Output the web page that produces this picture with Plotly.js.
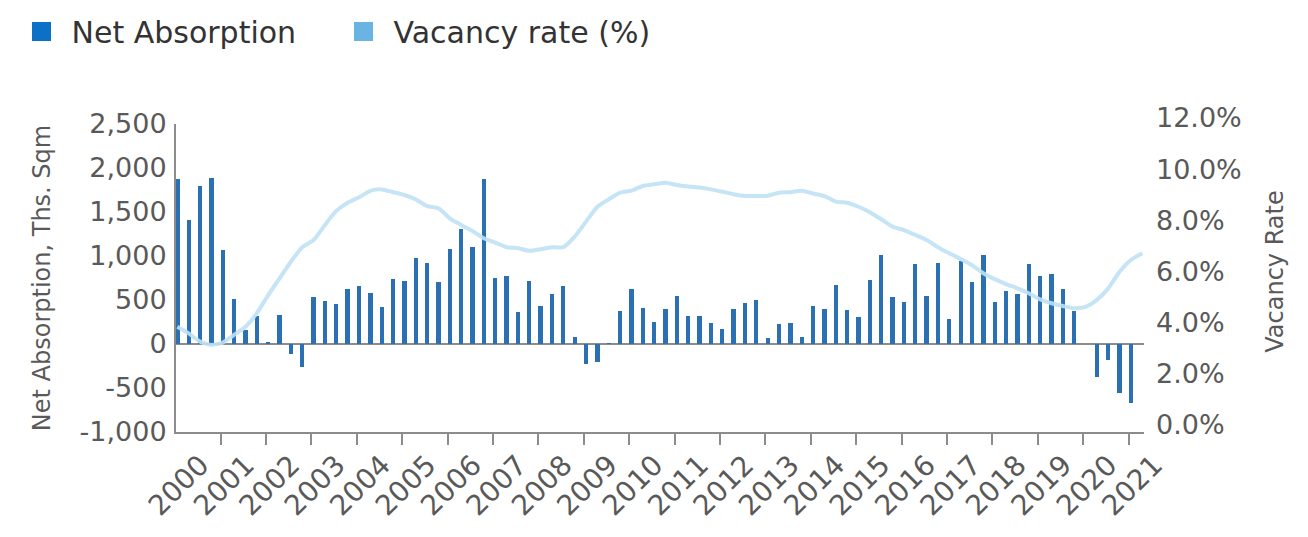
<!DOCTYPE html>
<html>
<head>
<meta charset="utf-8">
<script src="https://cdn.plot.ly/plotly-3.0.1.min.js"></script>
<style>
  html, body { margin: 0; padding: 0; background: #fff; }
  #chart { width: 1308px; height: 537px; }
</style>
</head>
<body>
<div id="chart"></div>
<script>
// year labels on the x axis, one per block of four quarters
const years = ["2000", "2001", "2002", "2003", "2004", "2005", "2006", "2007", "2008", "2009", "2010",
               "2011", "2012", "2013", "2014", "2015", "2016", "2017", "2018", "2019", "2020", "2021"];

// quarterly net absorption, ths. sqm (2000 Q1 .. 2021 Q1)
const netAbsorption = [
  1872, 1409, 1795, 1883,
  1068, 511, 159, 322,
  23, 330, -117, -265,
  530, 489, 451, 621,
  659, 580, 420, 739,
  712, 977, 924, 701,
  1080, 1307, 1106, 1872,
  754, 777, 367, 712,
  436, 568, 659, 76,
  -231, -208, 10, 379,
  621, 409, 250, 394,
  542, 318, 318, 235,
  170, 394, 462, 500,
  64, 223, 235, 76,
  436, 394, 670, 383,
  303, 727, 1011, 530,
  473, 909, 542, 924,
  288, 943, 701, 1011,
  473, 606, 568, 909,
  777, 792, 621, 379,
  0, -371, -182, -553,
  -674
];

// quarterly vacancy rate, % (2000 Q1 .. 2021 Q2)
const vacancyRate = [
  3.84, 3.58, 3.26, 3.13,
  3.22, 3.52, 3.84, 4.37,
  5.08, 5.73, 6.38, 6.95,
  7.23, 7.82, 8.37, 8.69,
  8.90, 9.15, 9.21, 9.10,
  8.99, 8.82, 8.56, 8.47,
  8.08, 7.82, 7.58, 7.30,
  7.13, 6.95, 6.91, 6.81,
  6.87, 6.95, 6.95, 7.36,
  7.95, 8.53, 8.82, 9.08,
  9.16, 9.34, 9.41, 9.47,
  9.38, 9.32, 9.28, 9.21,
  9.12, 9.02, 8.95, 8.95,
  8.96, 9.08, 9.10, 9.16,
  9.05, 8.95, 8.73, 8.69,
  8.53, 8.32, 8.04, 7.75,
  7.62, 7.43, 7.23, 6.95,
  6.71, 6.49, 6.25, 5.93,
  5.70, 5.51, 5.34, 5.15,
  4.91, 4.76, 4.65, 4.56,
  4.62, 4.89, 5.34, 5.99,
  6.45, 6.71
];

const absorptionTicks = [-1000, -500, 0, 500, 1000, 1500, 2000, 2500];
const rateTicks = [0, 2, 4, 6, 8, 10, 12];

const barColor = "#2a70b3";
const lineColor = "#bfe1f4";
const textColor = "#595959";
const axisColor = "#8c8c8c";
const font = "DejaVu Sans, sans-serif";

const quarterIdx = netAbsorption.map((v, i) => i);
const vacancyIdx = vacancyRate.map((v, i) => i);

// the bar axis stops at the right y axis, the label axis runs a bit further
const xRange = [-0.12, 85.15];
const xEnd = 968 / 1024;
const x2Range = [xRange[0], xRange[0] + (xRange[1] - xRange[0]) / xEnd];

const yearBounds = years.slice(1).map((y, k) => 4 * (k + 1) - 0.2);
const yearLabelPos = years.map((y, k) => 4 * k + 2.05);

// plain hyphen for negatives, like the original
const fmtThousands = v => (v < 0 ? "-" : "") + Math.abs(v).toLocaleString("en-US");

const bars = {
  x: quarterIdx, y: netAbsorption, type: "bar",
  width: 0.38,
  marker: { color: barColor },
  name: "Net Absorption", showlegend: false,
  xaxis: "x", yaxis: "y", hoverinfo: "y"
};

const vacancy = {
  x: vacancyIdx, y: vacancyRate, type: "scatter", mode: "lines",
  line: { color: lineColor, width: 4, shape: "spline", smoothing: 0.6 },
  opacity: 0.9,
  name: "Vacancy rate (%)", showlegend: false,
  xaxis: "x2", yaxis: "y2", hoverinfo: "y"
};

// legend swatches only (a single empty point so the trace stays visible)
const keyAbsorption = {
  x: [null], y: [null], type: "scatter", mode: "markers", name: "Net Absorption",
  marker: { symbol: "square", size: 16, color: "#0b70c6", line: { width: 3, color: "#0b70c6" } },
  hoverinfo: "skip"
};
const keyVacancy = {
  x: [null], y: [null], type: "scatter", mode: "markers", name: "Vacancy rate (%)",
  marker: { symbol: "square", size: 16, color: "#6ab4e4", line: { width: 3, color: "#6ab4e4" } },
  hoverinfo: "skip"
};

const layout = {
  width: 1308, height: 537,
  margin: { l: 176, r: 108, t: 117, b: 105 },
  paper_bgcolor: "#fff", plot_bgcolor: "rgba(0,0,0,0)",
  font: { family: font, size: 27, color: textColor },
  bargap: 0,
  showlegend: true,
  legend: {
    orientation: "h", xref: "container", yref: "container",
    x: 0.0088, y: 0.9897, xanchor: "left", yanchor: "top",
    font: { size: 30, color: "#333" },
    itemwidth: 50,
    entrywidth: 257, entrywidthmode: "pixels",
    bgcolor: "rgba(0,0,0,0)"
  },
  xaxis: {
    domain: [0, xEnd], range: xRange, anchor: "y",
    showline: true, linecolor: axisColor, linewidth: 2,
    showgrid: false, zeroline: false,
    tickmode: "array", tickvals: yearBounds, showticklabels: false,
    ticks: "outside", ticklen: 11, tickwidth: 2, tickcolor: axisColor
  },
  xaxis2: {
    domain: [0, 1], range: x2Range, anchor: "free", position: 0,
    showline: false, showgrid: false, zeroline: false,
    tickmode: "array", tickvals: yearLabelPos, ticktext: years,
    ticks: "", tickangle: -45, ticklabelstandoff: 10,
    tickfont: { size: 28, color: textColor }
  },
  yaxis: {
    domain: [0, 308 / 315], range: [-1000, 2500], anchor: "x",
    tickmode: "array", tickvals: absorptionTicks, ticktext: absorptionTicks.map(fmtThousands),
    showline: true, linecolor: axisColor, linewidth: 2,
    showgrid: false, zeroline: true, zerolinecolor: axisColor, zerolinewidth: 2,
    ticks: "", ticklabelstandoff: 2,
    tickfont: { size: 27, color: textColor },
    title: { text: "Net Absorption, Ths. Sqm", font: { size: 24, color: textColor }, standoff: 22 }
  },
  yaxis2: {
    domain: [7 / 315, 314 / 315], range: [0, 12], anchor: "free", position: xEnd, side: "right",
    tickmode: "array", tickvals: rateTicks, ticktext: rateTicks.map(v => v.toFixed(1) + "%"),
    showline: false, showgrid: false, zeroline: false,
    ticks: "", ticklabelstandoff: 11,
    tickfont: { size: 27, color: textColor },
    title: { text: "Vacancy Rate", font: { size: 24, color: textColor }, standoff: 25 }
  }
};

Plotly.newPlot("chart", [bars, vacancy, keyAbsorption, keyVacancy], layout, { staticPlot: true });
</script>
</body>
</html>
